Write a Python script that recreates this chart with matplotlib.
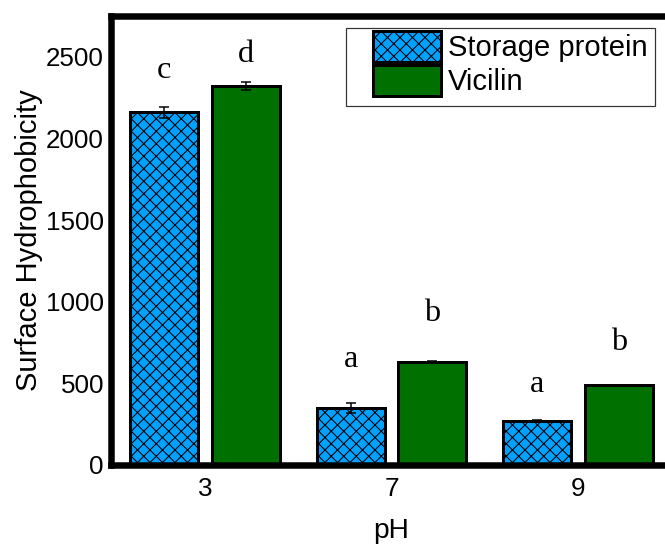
import numpy as np
import matplotlib.pyplot as plt
from matplotlib.patches import Rectangle

plt.rcParams['font.family'] = ['Liberation Sans', 'DejaVu Sans']
plt.rcParams['hatch.linewidth'] = 1.0

# Surface hydrophobicity by pH
ph_labels = ["3", "7", "9"]
storage_mean = [2160, 349, 270]
storage_err = [33, 30, 5]
vicilin_mean = [2320, 631, 490]
vicilin_err = [25, 5, 2]
storage_letters = ["c", "a", "a"]
vicilin_letters = ["d", "b", "b"]

# gap between top of error bar and significance letter (data units)
storage_gap = [175, 222, 172]
vicilin_gap = [124, 246, 213]

DPI = 75


def pt(px):
    # pixel size -> points at the output dpi
    return px * 72 / DPI


fig = plt.figure(figsize=(665 / DPI, 548 / DPI), dpi=DPI)
ax = fig.add_axes([111 / 665, 1 - 465 / 548, (700 - 111) / 665, (465 - 16) / 548])

x = np.arange(len(ph_labels))
width = 0.365
offset = 0.218
err_style = dict(ecolor='black', elinewidth=pt(1.5), capsize=pt(4.7), capthick=pt(1.5))

ax.bar(x - offset, storage_mean, width, yerr=storage_err, color='#00A2FF',
       edgecolor='black', linewidth=pt(3), hatch='xx', label='Storage protein',
       error_kw=err_style, zorder=2)
ax.bar(x + offset, vicilin_mean, width, yerr=vicilin_err, color='#007000',
       edgecolor='black', linewidth=pt(3), label='Vicilin',
       error_kw=err_style, zorder=2)

# significance letters
for i in range(len(x)):
    ax.text(x[i] - offset, storage_mean[i] + storage_err[i] + storage_gap[i],
            storage_letters[i], ha='center', va='baseline', fontsize=31,
            family='Liberation Serif')
    ax.text(x[i] + offset, vicilin_mean[i] + vicilin_err[i] + vicilin_gap[i],
            vicilin_letters[i], ha='center', va='baseline', fontsize=31,
            family='Liberation Serif')

ax.set_xlim(-0.504, 2.654)
ax.set_ylim(0, 2750)
ax.set_xticks(x)
ax.set_xticklabels(ph_labels)
ax.set_yticks(np.arange(0, 2501, 500))
ax.tick_params(axis='both', length=0, labelsize=25)
ax.tick_params(axis='x', pad=pt(12))
ax.tick_params(axis='y', pad=pt(7))

for s in ax.spines.values():
    s.set_linewidth(pt(6.5))

ax.set_ylabel('Surface Hydrophobicity', fontsize=28)
ax.set_xlabel('pH', fontsize=27)
ax.yaxis.set_label_coords(-0.115, 0.5)
ax.xaxis.set_label_coords(0.4754, -0.118)

ax.legend(loc='upper left', bbox_to_anchor=(373 / 665, 1 - 31 / 548),
          bbox_transform=fig.transFigure, frameon=False, borderpad=0,
          borderaxespad=0, handlelength=2.32, handleheight=1.28,
          handletextpad=0.24, labelspacing=0.08, fontsize=28)
fig.add_artist(Rectangle((346 / 665, 1 - 106 / 548), 309 / 665, 78 / 548,
                         transform=fig.transFigure, fill=False,
                         edgecolor='#333333', linewidth=pt(1.2)))

fig.savefig('out.png', dpi=DPI)
